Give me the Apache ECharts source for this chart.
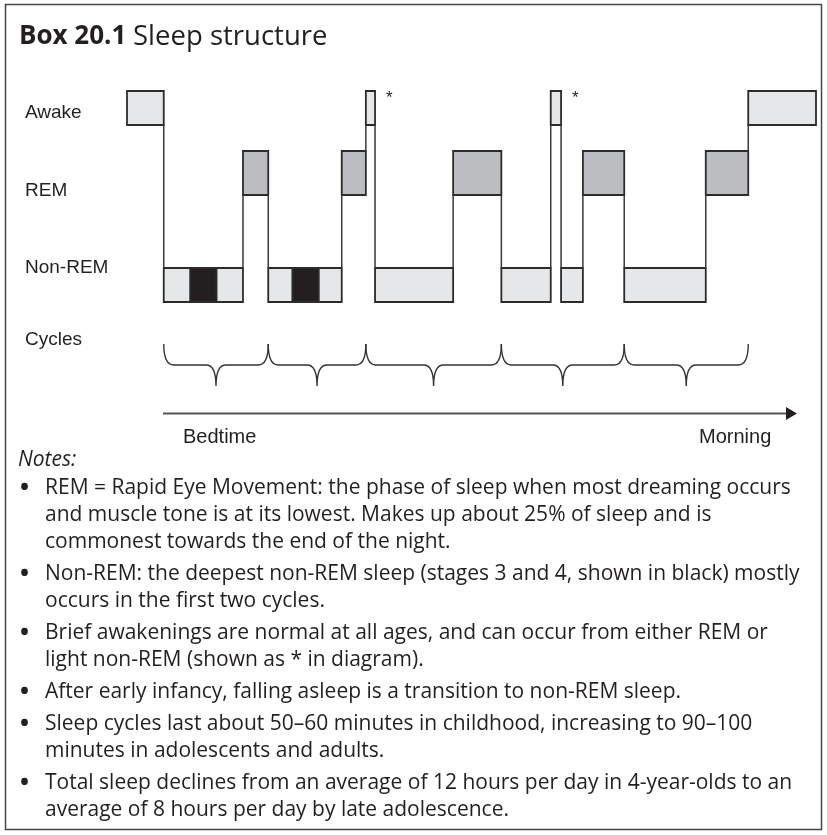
<!DOCTYPE html>
<html>
<head>
<meta charset="utf-8">
<title>Sleep structure</title>
<script src="https://cdn.jsdelivr.net/npm/echarts@6/dist/echarts.min.js"></script>
<style>
  html, body { margin: 0; padding: 0; background: #fff; }
  #chart { width: 827px; height: 835px; }
</style>
</head>
<body>
<div id="chart"></div>
<script>
// night timeline, minutes after lights out
const stageNames = ['Awake', 'REM', 'Non-REM'];
const stageBounds = [0, 32, 101, 123, 187, 208, 216, 284, 326, 369, 378, 397, 433, 504, 541, 600];
const stageSeq = ['Awake', 'Non-REM', 'REM', 'Non-REM', 'REM', 'Awake', 'Non-REM', 'REM', 'Non-REM', 'Awake', 'Non-REM', 'REM', 'Non-REM', 'REM', 'Awake'];
const briefWake = [0, 0, 0, 0, 0, 1, 0, 0, 0, 1, 0, 0, 0, 0, 0]; // marked with *
const deepStart = [55, 144];
const deepEnd = [78, 167];
const cycleBounds = [32, 123, 208, 326, 433, 541];
const rowLabels = ['Awake', 'REM', 'Non-REM', 'Cycles'];
const timeLabels = ['Bedtime', 'Morning'];

const notes = [
  ['REM = Rapid Eye Movement: the phase of sleep when most dreaming occurs',
   'and muscle tone is at its lowest. Makes up about 25% of sleep and is',
   'commonest towards the end of the night.'],
  ['Non-REM: the deepest non-REM sleep (stages 3 and 4, shown in black) mostly',
   'occurs in the first two cycles.'],
  ['Brief awakenings are normal at all ages, and can occur from either REM or',
   'light non-REM (shown as * in diagram).'],
  ['After early infancy, falling asleep is a transition to non-REM sleep.'],
  ['Sleep cycles last about 50\u201360 minutes in childhood, increasing to 90\u2013100',
   'minutes in adolescents and adults.'],
  ['Total sleep declines from an average of 12 hours per day in 4-year-olds to an',
   'average of 8 hours per day by late adolescence.']
];

// layout (y axis units, inverse, 0 = top of awake row)
const band = { 'Awake': [0, 34], 'REM': [60, 104], 'Non-REM': [177, 211] };
const labelPos = [22, 100, 177, 249];
const brace = { top: 253, mid: 274, tip: 295 };
const fills = { 'Awake': '#e6e7e8', 'REM': '#bcbdc0', 'Non-REM': '#e6e7e8' };
const ink = '#231f20';
const diagramFont = '"Liberation Sans", Arial, sans-serif';
const textFont = '"Open Sans", "Noto Sans", sans-serif';

let stageData = stageSeq.map((s, i) => [
  stageBounds[i], stageBounds[i + 1], stageNames.indexOf(s),
  i > 0 ? stageNames.indexOf(stageSeq[i - 1]) : -1, briefWake[i]
]);
let deepData = deepStart.map((d, i) => [d, deepEnd[i]]);
let braceData = [];
for (let i = 0; i < cycleBounds.length - 1; i++) {
  braceData.push([cycleBounds[i], cycleBounds[i + 1]]);
}

function renderStage(params, api) {
  let st = stageNames[api.value(2)];
  let b = band[st];
  let p0 = api.coord([api.value(0), b[0]]);
  let p1 = api.coord([api.value(1), b[1]]);
  let children = [{
    type: 'rect',
    shape: { x: p0[0], y: p0[1], width: p1[0] - p0[0], height: p1[1] - p0[1] },
    style: { fill: fills[st], stroke: '#2b2b2b', lineWidth: 1.8 }
  }];
  let prev = api.value(3);
  if (prev >= 0) {
    let pb = band[stageNames[prev]];
    let ya, yb;
    if (pb[1] <= b[0]) { ya = pb[1]; yb = b[0]; } else { ya = b[1]; yb = pb[0]; }
    let c0 = api.coord([api.value(0), ya]);
    let c1 = api.coord([api.value(0), yb]);
    children.push({
      type: 'line',
      shape: { x1: c0[0], y1: c0[1], x2: c1[0], y2: c1[1] },
      style: { stroke: '#3a3a3a', lineWidth: 1.5 }
    });
  }
  if (api.value(4)) {
    children.push({
      type: 'text',
      style: {
        text: '*', x: p1[0] + 11, y: p0[1] - 1,
        fill: ink, font: '17px ' + diagramFont, verticalAlign: 'top'
      }
    });
  }
  return { type: 'group', children };
}

function renderDeep(params, api) {
  let b = band['Non-REM'];
  let p0 = api.coord([api.value(0), b[0]]);
  let p1 = api.coord([api.value(1), b[1]]);
  return {
    type: 'rect',
    shape: { x: p0[0], y: p0[1], width: p1[0] - p0[0], height: p1[1] - p0[1] },
    style: { fill: ink, stroke: '#2b2b2b', lineWidth: 1.8 }
  };
}

function renderBrace(params, api) {
  let a = api.coord([api.value(0), brace.top]);
  let b = api.coord([api.value(1), brace.top]);
  let yMid = api.coord([api.value(0), brace.mid])[1];
  let yTip = api.coord([api.value(0), brace.tip])[1];
  let xc = (a[0] + b[0]) / 2, r = 10, y0 = a[1];
  let d = 'M' + a[0] + ' ' + y0 + ' Q' + a[0] + ' ' + yMid + ' ' + (a[0] + r) + ' ' + yMid +
    ' L' + (xc - r) + ' ' + yMid + ' Q' + xc + ' ' + yMid + ' ' + xc + ' ' + yTip +
    ' M' + xc + ' ' + yTip + ' Q' + xc + ' ' + yMid + ' ' + (xc + r) + ' ' + yMid +
    ' L' + (b[0] - r) + ' ' + yMid + ' Q' + b[0] + ' ' + yMid + ' ' + b[0] + ' ' + y0;
  return {
    type: 'path',
    shape: { pathData: d },
    style: { fill: 'none', stroke: '#333', lineWidth: 1.4 }
  };
}

// notes text
let noteGraphics = [{
  type: 'text', x: 18, y: 460,
  style: { text: 'Notes:', fill: ink, font: 'italic 21px ' + textFont, verticalAlign: 'middle' }
}];
let ny = 488;
notes.forEach((lines, bi) => {
  if (bi > 0) ny += 5;
  noteGraphics.push({
    type: 'text', x: 20, y: ny,
    style: { text: '\u2022', fill: ink, font: 'bold 24px ' + textFont, verticalAlign: 'middle' }
  });
  lines.forEach(line => {
    noteGraphics.push({
      type: 'text', x: 45, y: ny,
      style: { text: line, fill: ink, font: '21px ' + textFont, verticalAlign: 'middle' }
    });
    ny += 27;
  });
});

let chart = echarts.init(document.getElementById('chart'));
chart.setOption({
  animation: false,
  backgroundColor: '#fff',
  grid: { left: 127, right: 11, top: 91, height: 295 },
  xAxis: { type: 'value', min: 0, max: 600, show: false },
  yAxis: {
    type: 'value', min: 0, max: 295, inverse: true,
    axisLine: { show: false }, axisTick: { show: false }, splitLine: { show: false },
    axisLabel: {
      customValues: labelPos,
      formatter: v => rowLabels[labelPos.indexOf(v)],
      align: 'left', margin: 102,
      color: ink, fontSize: 19, fontFamily: diagramFont
    }
  },
  graphic: [
    {
      type: 'rect', shape: { x: 5.5, y: 4.5, width: 816, height: 825 },
      style: { fill: 'none', stroke: '#444', lineWidth: 1.5 }
    },
    {
      type: 'text', x: 19, y: 37,
      style: {
        text: '{b|Box 20.1}  {r|Sleep structure}',
        verticalAlign: 'middle',
        rich: {
          b: { fontFamily: textFont, fontWeight: 'bold', fontSize: 26, fill: ink },
          r: { fontFamily: textFont, fontSize: 27.5, fill: ink }
        }
      }
    },
    {
      type: 'line', shape: { x1: 163, y1: 413.5, x2: 788, y2: 413.5 },
      style: { stroke: '#555', lineWidth: 1.8 }
    },
    {
      type: 'polygon', shape: { points: [[786, 407], [797, 413.5], [786, 420]] },
      style: { fill: ink }
    },
    {
      type: 'text', x: 183, y: 437,
      style: { text: timeLabels[0], fill: ink, font: '20px ' + diagramFont, verticalAlign: 'middle' }
    },
    {
      type: 'text', x: 699, y: 437,
      style: { text: timeLabels[1], fill: ink, font: '20px ' + diagramFont, verticalAlign: 'middle' }
    }
  ].concat(noteGraphics),
  series: [
    { type: 'custom', name: 'stages', renderItem: renderStage, data: stageData, silent: true },
    { type: 'custom', name: 'deep', renderItem: renderDeep, data: deepData, silent: true },
    { type: 'custom', name: 'cycles', renderItem: renderBrace, data: braceData, silent: true }
  ]
});
</script>
</body>
</html>
